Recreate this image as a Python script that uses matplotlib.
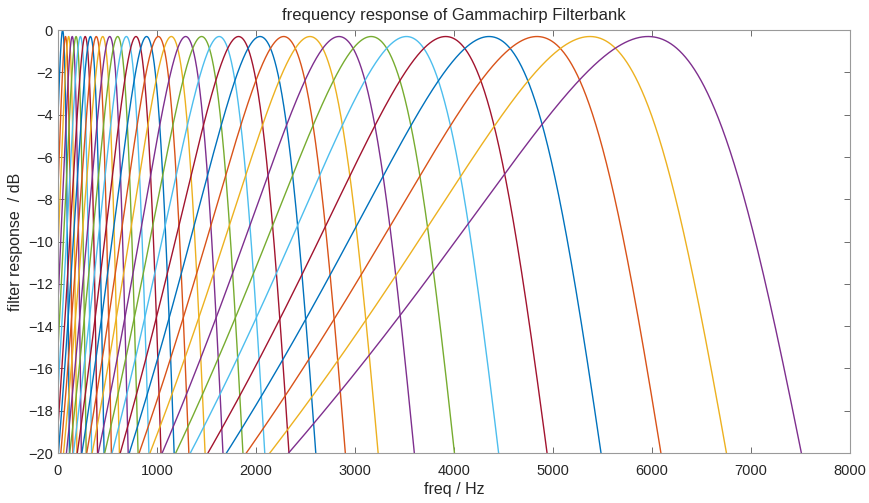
import numpy as np
import matplotlib
matplotlib.use("Agg")
import matplotlib.pyplot as plt

plt.rcParams['font.family'] = ['Liberation Sans', 'DejaVu Sans']

# peak frequency of each channel (Hz)
peak_freq = [47, 76, 108, 144, 183, 227, 275, 328, 387, 452, 523, 603, 691,
             788, 895, 1014, 1145, 1290, 1451, 1628, 1824, 2041, 2280, 2545,
             2838, 3163, 3520, 3916, 4354, 4838, 5373, 5960]
# where each channel falls to -20 dB on its high side (Hz)
edge_freq = [116, 152, 192, 237, 286, 341, 401, 467, 541, 622, 711, 811, 921,
             1043, 1176, 1325, 1489, 1670, 1872, 2093, 2338, 2609, 2908, 3240,
             3606, 4012, 4459, 4949, 5495, 6101, 6764, 7522]
# level at the peak (dB)
peak_db = [0.0] + [-0.3] * 31

# gammachirp shape parameters
order = 4
chirp = -2.8

matlab_colors = ['#0072BD', '#D95319', '#EDB120', '#7E2F8E',
                 '#77AC30', '#4DBEEE', '#A2142F']


def gc_level(x):
    return -10 * order * np.log10(1 + x**2) + 20 * np.log10(np.e) * chirp * np.arctan(x)


# normalised shape: peak position and high-side -20 dB point
xs = np.linspace(-30, 30, 60001)
lv = gc_level(xs)
x_peak = xs[np.argmax(lv)]
lv = lv - lv.max()
right = xs[(xs > x_peak) & (lv <= -20)][0]
d_right = right - x_peak

freq = np.linspace(0, 8000, 4001)

fig = plt.figure(figsize=(8.69, 5.03), dpi=100)
ax = fig.add_axes([0.0667, 0.0994, 0.9115, 0.8406])

for i, (pf, ef, pd) in enumerate(zip(peak_freq, edge_freq, peak_db)):
    bw = (ef - pf) / d_right
    x = x_peak + (freq - pf) / bw
    resp = gc_level(x) - gc_level(x_peak) + pd
    ax.plot(freq, resp, color=matlab_colors[i % 7], lw=1.0)

ax.set_xlim(0, 8000)
ax.set_ylim(-20, 0)
ax.set_xticks(np.arange(0, 8001, 1000))
ax.set_yticks(np.arange(-20, 1, 2))
ax.tick_params(direction='in', top=True, right=True, labelsize=10.5,
               colors='#262626', length=4, width=0.6)
ax.tick_params(axis='x', pad=8)
for sp in ax.spines.values():
    sp.set_color('#9a9a9a')
    sp.set_linewidth(0.8)
ax.tick_params(axis='both', which='both', color='#555555')

ax.set_xlabel('freq / Hz', fontsize=11.5, color='#262626', labelpad=3)
ax.set_ylabel('filter response  / dB', fontsize=11.5, color='#262626', labelpad=4)
ax.set_title('frequency response of Gammachirp Filterbank', fontsize=12,
             color='#262626', pad=7)

fig.savefig('out.png', dpi=100)
